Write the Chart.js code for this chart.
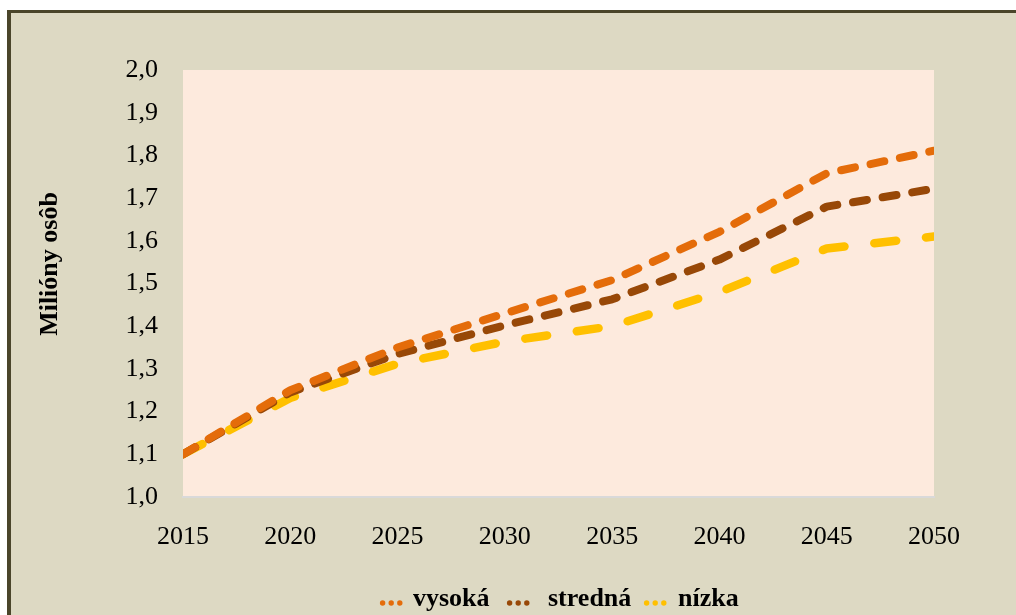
<!DOCTYPE html>
<html lang="sk">
<head>
<meta charset="utf-8">
<title>Milióny osôb</title>
<script src="https://cdn.jsdelivr.net/npm/chart.js@4/dist/chart.umd.min.js"></script>
<style>
  html, body { margin: 0; padding: 0; background: #ffffff; }
  #wrap { position: absolute; left: 0; top: 0; width: 1016px; height: 615px; }
</style>
</head>
<body>
<div id="wrap"><canvas id="chart" width="1016" height="615"></canvas></div>
<script>
// Projekcia počtu osôb (milióny), tri varianty
const years = ['2015', '2020', '2025', '2030', '2035', '2040', '2045', '2050'];
const vysoka  = [1.10, 1.250, 1.350, 1.430, 1.508, 1.621, 1.758, 1.811];
const stredna = [1.10, 1.245, 1.335, 1.402, 1.463, 1.556, 1.680, 1.722];
const nizka   = [1.10, 1.232, 1.312, 1.364, 1.400, 1.480, 1.582, 1.610];
const seriesNames = ['vysoká', 'stredná', 'nízka'];
const yTitle = 'Milióny osôb';

const SERIF = '"Liberation Serif", "Times New Roman", serif';
const colors = ['#e46c0a', '#984807', '#ffc000'];

// Frame, plot background, axis title and the dotted legend
const decor = {
  id: 'decor',
  beforeDraw(chart) {
    const { ctx, chartArea: a, width, height } = chart;
    ctx.save();
    ctx.fillStyle = '#ffffff';
    ctx.fillRect(0, 0, width, height);
    ctx.fillStyle = '#ddd9c3';
    ctx.fillRect(7, 10, width - 7, height - 10);
    ctx.fillStyle = '#4a452a';
    ctx.fillRect(7, 10, width - 7, 3);
    ctx.fillRect(7, 10, 4, height - 10);
    ctx.fillStyle = '#fdeadd';
    ctx.fillRect(a.left, a.top, a.right - a.left, a.bottom - a.top);
    ctx.restore();
  },
  afterDraw(chart) {
    const { ctx, chartArea: a } = chart;
    ctx.save();
    // y-axis title
    ctx.font = 'bold 26px ' + SERIF;
    ctx.fillStyle = '#000000';
    ctx.textAlign = 'center';
    ctx.textBaseline = 'alphabetic';
    ctx.translate(57, 264);
    ctx.rotate(-Math.PI / 2);
    ctx.fillText(yTitle, 0, 0);
    ctx.restore();

    // legend: three dots in the series colour, then the name
    const starts = [380, 507, 644];
    const textX = [413, 548, 678];
    const baseY = 606;
    ctx.save();
    ctx.font = 'bold 26px ' + SERIF;
    ctx.textBaseline = 'alphabetic';
    ctx.textAlign = 'left';
    chart.data.datasets.forEach((ds, i) => {
      ctx.fillStyle = ds.borderColor;
      for (let k = 0; k < 3; k++) {
        ctx.beginPath();
        ctx.arc(starts[i] + 2.6 + k * 8.6, 603, 2.7, 0, Math.PI * 2);
        ctx.fill();
      }
      ctx.fillStyle = '#000000';
      ctx.fillText(ds.label, textX[i], baseY);
    });
    ctx.restore();
  }
};

const mkSet = (label, data, color, dash, width) => ({
  label, data,
  borderColor: color,
  backgroundColor: color,
  borderWidth: width,
  borderDash: dash,
  borderCapStyle: 'round',
  borderJoinStyle: 'round',
  pointRadius: 0,
  pointHoverRadius: 0,
  tension: 0,
  fill: false,
  clip: 0
});

new Chart(document.getElementById('chart'), {
  type: 'line',
  data: {
    labels: years,
    datasets: [
      mkSet(seriesNames[0], vysoka, colors[0], [14, 16], 8),
      mkSet(seriesNames[1], stredna, colors[1], [14, 16], 8),
      mkSet(seriesNames[2], nizka, colors[2], [22, 30], 8.5)
    ]
  },
  options: {
    responsive: false,
    animation: false,
    devicePixelRatio: 1,
    layout: { padding: { left: 0, right: 82, top: 70, bottom: 0 } },
    plugins: {
      legend: { display: false },
      tooltip: { enabled: false }
    },
    scales: {
      x: {
        type: 'category',
        offset: false,
        grid: { display: false, drawTicks: false },
        border: { display: true, color: '#d9d9d9', width: 2 },
        ticks: {
          color: '#000000',
          font: { family: SERIF, size: 26 },
          padding: 25,
          maxRotation: 0,
          autoSkip: false
        },
        afterFit(scale) { scale.height = 118; }
      },
      y: {
        min: 1.0,
        max: 2.0,
        grid: { display: false, drawTicks: false },
        border: { display: false },
        ticks: {
          stepSize: 0.1,
          color: '#000000',
          font: { family: SERIF, size: 26 },
          padding: 25,
          callback: v => v.toFixed(1).replace('.', ',')
        },
        afterFit(scale) { scale.width = 183; }
      }
    }
  },
  plugins: [decor]
});
</script>
</body>
</html>
